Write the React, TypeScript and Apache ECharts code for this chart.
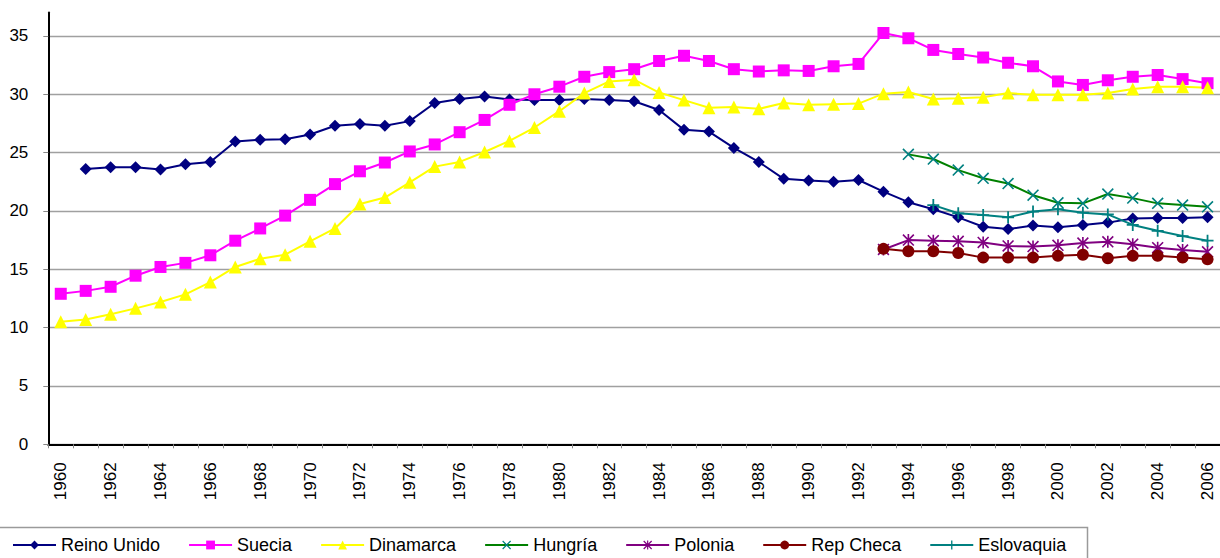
import React, { useEffect, useRef } from "react";
import * as echarts from "echarts";

const years: string[] = [];
for (let y = 1960; y <= 2006; y++) years.push(String(y));

const yTicks = [0, 5, 10, 15, 20, 25, 30, 35];

const reinoUnido = [
  null, 23.6, 23.75, 23.75, 23.55, 24.0, 24.2, 25.95, 26.1, 26.15,
  26.55, 27.3, 27.45, 27.3, 27.7, 29.25, 29.6, 29.8, 29.55, 29.5,
  29.5, 29.6, 29.5, 29.4, 28.65, 26.95, 26.8, 25.4, 24.2, 22.75,
  22.6, 22.5, 22.65, 21.65, 20.75, 20.15, 19.45, 18.65, 18.45, 18.75,
  18.6, 18.8, 19.0, 19.35, 19.4, 19.4, 19.45,
];
const suecia = [
  12.9, 13.15, 13.5, 14.45, 15.2, 15.55, 16.2, 17.45, 18.5, 19.6,
  20.95, 22.3, 23.4, 24.15, 25.1, 25.7, 26.75, 27.8, 29.1, 30.0,
  30.65, 31.5, 31.9, 32.15, 32.85, 33.3, 32.85, 32.15, 31.95, 32.05,
  32.0, 32.4, 32.6, 35.25, 34.8, 33.8, 33.45, 33.15, 32.7, 32.4,
  31.1, 30.8, 31.2, 31.5, 31.65, 31.3, 30.95,
];
const dinamarca = [
  10.5, 10.7, 11.15, 11.65, 12.2, 12.85, 13.9, 15.2, 15.9, 16.25,
  17.4, 18.5, 20.6, 21.15, 22.45, 23.8, 24.2, 25.05, 26.0, 27.15,
  28.55, 30.1, 31.1, 31.25, 30.15, 29.5, 28.85, 28.9, 28.75, 29.25,
  29.1, 29.15, 29.2, 30.05, 30.2, 29.6, 29.65, 29.75, 30.1, 29.95,
  29.95, 29.95, 30.1, 30.45, 30.65, 30.65, 30.55,
];
const pad = (n: number) => new Array(n).fill(null);
const hungria = [
  ...pad(34),
  24.85, 24.45, 23.5, 22.8, 22.35, 21.35, 20.7, 20.65, 21.45, 21.1,
  20.65, 20.5, 20.35,
];
const polonia = [
  ...pad(33),
  16.7, 17.5, 17.45, 17.4, 17.3, 17.0, 16.95, 17.05, 17.25, 17.35,
  17.15, 16.85, 16.65, 16.5,
];
const repCheca = [
  ...pad(33),
  16.75, 16.55, 16.55, 16.4, 16.0, 16.0, 16.0, 16.15, 16.25, 15.95,
  16.15, 16.15, 16.0, 15.85,
];
const eslovaquia = [
  ...pad(35),
  20.5, 19.8, 19.65, 19.45, 19.95, 20.15, 19.85, 19.7, 18.8, 18.3,
  17.85, 17.45,
];

const PLUS =
  "path://M-1.5,-10L1.5,-10L1.5,-1.5L10,-1.5L10,1.5L1.5,1.5L1.5,10L-1.5,10L-1.5,1.5L-10,1.5L-10,-1.5L-1.5,-1.5Z";
const a = 1.06;
const XPATH =
  `path://M${-10 + a},${-10 - a}L${10 + a},${10 - a}L${10 - a},${10 + a}L${-10 - a},${-10 + a}Z` +
  `M${10 - a},${-10 - a}L${10 + a},${-10 + a}L${-10 + a},${10 + a}L${-10 - a},${10 - a}Z`;
const STAR =
  XPATH.replace("path://", "path://M-1.5,-11.06L1.5,-11.06L1.5,11.06L-1.5,11.06Z");

const FONT = "'Liberation Sans', Arial, sans-serif";

export default function App() {
  const ref = useRef<HTMLDivElement>(null);
  useEffect(() => {
    if (!ref.current) return;
    const chart = echarts.init(ref.current, null, { renderer: "svg" });
    const mk = (
      name: string,
      data: (number | null)[],
      lineColor: string,
      symColor: string,
      symbol: string,
      symbolSize: number
    ) => ({
      name,
      type: "line",
      data,
      symbol,
      symbolSize,
      showAllSymbol: true,
      clip: false,
      lineStyle: { color: lineColor, width: 2 },
      itemStyle: { color: symColor, borderWidth: 0 },
      emphasis: { disabled: true },
    });
    chart.setOption({
      animation: false,
      textStyle: { fontFamily: FONT },
      grid: { left: 48.3, right: -7.4, top: 12.6, bottom: 113.7, containLabel: false },
      xAxis: {
        type: "category",
        data: years,
        boundaryGap: true,
        axisLine: { lineStyle: { color: "#000", width: 2 } },
        axisTick: { show: true, interval: 0, length: 4, lineStyle: { color: "#888" } },
        axisLabel: {
          interval: 1,
          rotate: 90,
          margin: 18,
          fontSize: 17,
          color: "#000",
          fontFamily: FONT,
        },
        splitLine: { show: false },
      },
      yAxis: {
        type: "value",
        min: 0,
        max: 37,
        interval: 5,
        axisLine: { show: true, lineStyle: { color: "#000", width: 2 } },
        axisTick: { show: true, length: 5, lineStyle: { color: "#888" }, customValues: yTicks },
        axisLabel: {
          margin: 20,
          fontSize: 17,
          color: "#000",
          fontFamily: FONT,
          customValues: yTicks,
          formatter: (v: number) => (v % 5 === 0 ? String(v) : ""),
        },
        splitLine: { show: true, lineStyle: { color: "#a0a0a0", width: 1.3 } },
      },
      legend: {
        left: 12,
        top: 536,
        padding: 0,
        itemWidth: 43,
        itemHeight: 11,
        itemGap: 28,
        textStyle: { fontSize: 18, color: "#000", fontFamily: FONT },
        data: ["Reino Unido", "Suecia", "Dinamarca", "Hungría", "Polonia", "Rep Checa", "Eslovaquia"],
      },
      graphic: [
        {
          type: "rect",
          shape: { x: -2, y: 527.5, width: 1089.5, height: 40 },
          style: { fill: "none", stroke: "#9a9a9a", lineWidth: 1.5 },
          silent: true,
        },
      ],
      series: [
        mk("Reino Unido", reinoUnido, "#000080", "#000080", "diamond", 12),
        mk("Suecia", suecia, "#ff00ff", "#ff00ff", "rect", 12),
        mk("Dinamarca", dinamarca, "#ffff00", "#ffff00", "triangle", 13),
        mk("Hungría", hungria, "#008000", "#008080", XPATH, 12),
        mk("Polonia", polonia, "#800080", "#800080", STAR, 12),
        mk("Rep Checa", repCheca, "#800000", "#800000", "circle", 12),
        mk("Eslovaquia", eslovaquia, "#008080", "#008080", PLUS, 12),
      ],
    });
    return () => chart.dispose();
  }, []);
  return (
    <div
      ref={ref}
      style={{ position: "fixed", left: 0, top: 0, width: 1220, height: 558, background: "#fff" }}
    />
  );
}
